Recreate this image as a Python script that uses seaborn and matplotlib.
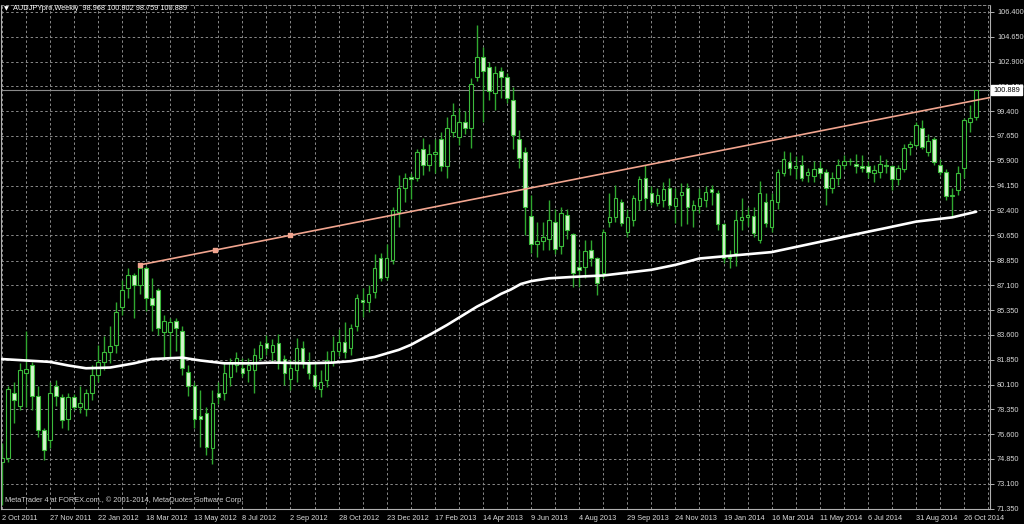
import numpy as np
import pandas as pd
import seaborn as sns
import matplotlib
matplotlib.use('Agg')
from matplotlib import pyplot as plt

# weekly AUDJPY candles, first bar = week of 2 Oct 2011
opens = [74.6, 74.9, 79.5, 78.6, 80.9, 81.5, 79.3, 76.9, 76.2, 80.0,
         79.2, 77.7, 79.2, 78.5, 78.4, 79.5, 80.8, 81.7, 82.4, 82.9,
         85.6, 86.9, 87.8, 87.1, 88.3, 86.2, 86.8, 83.8, 83.8, 84.6,
         83.9, 81.0, 80.0, 77.9, 78.1, 75.6, 79.5, 79.5, 80.6, 81.5,
         81.3, 81.1, 81.1, 82.0, 83.0, 82.4, 83.0, 81.9, 80.5, 81.1,
         82.7, 81.6, 80.8, 79.8, 80.4, 81.7, 82.5, 83.1, 82.7, 84.2,
         86.1, 85.9, 86.6, 89.0, 87.7, 88.9, 92.3, 94.0, 94.75, 94.7,
         96.7, 95.6, 96.4, 97.4, 95.5, 97.9, 97.6, 98.6, 98.2, 101.8,
         103.2, 102.5, 100.7, 102.2, 101.8, 100.2, 97.4, 96.5, 92.0, 90.0,
         90.2, 90.4, 91.6, 89.9, 92.1, 90.7, 88.4, 88.4, 89.6, 89.0,
         88.0, 91.6, 91.9, 93.0, 90.9, 91.7, 93.1, 94.7, 93.6, 92.9,
         93.1, 94.0, 92.7, 93.5, 94.0, 92.4, 92.7, 93.1, 93.9, 93.6,
         91.4, 89.0, 89.4, 91.7, 91.9, 92.0, 90.3, 93.0, 91.2, 93.0,
         95.0, 95.8, 95.4, 95.6, 94.9, 94.8, 95.4, 95.1, 94.0, 94.7,
         95.6, 95.9, 95.7, 95.5, 95.5, 95.0, 95.1, 95.6, 95.5, 94.6,
         95.3, 96.9, 97.0, 98.2, 96.5, 97.4, 95.6, 95.1, 93.4, 93.8,
         95.4, 98.6, 98.968]
highs = [75.95, 80.0, 80.3, 81.6, 83.9, 81.7, 80.0, 77.0, 80.3, 80.4,
         79.4, 79.5, 79.4, 80.0, 79.8, 81.5, 82.9, 83.5, 84.2, 85.9,
         87.5, 88.3, 88.0, 88.55, 88.5, 87.6, 86.9, 85.0, 84.8, 84.8,
         84.2, 81.5, 80.3, 79.7, 78.5, 79.7, 80.3, 81.6, 82.0, 82.4,
         82.0, 82.0, 82.7, 83.2, 83.6, 83.3, 83.7, 82.2, 81.9, 83.4,
         83.2, 82.4, 81.7, 81.1, 82.5, 83.5, 84.0, 84.5, 84.4, 86.5,
         86.9, 87.1, 89.3, 89.4, 90.0, 92.6, 94.9, 95.0, 95.0, 96.7,
         97.5, 97.1, 97.4, 97.9, 99.0, 100.0, 99.6, 99.4, 101.75, 105.5,
         103.9, 102.9, 102.6, 102.5, 102.1, 101.1, 98.1, 96.9, 93.5, 91.6,
         91.6, 93.1, 92.5, 92.6, 92.5, 90.8, 89.6, 90.3, 90.3, 89.1,
         91.1, 93.6, 94.2, 93.2, 92.5, 93.5, 94.8, 95.6, 94.1, 94.0,
         94.4, 94.7, 94.0, 94.3, 94.3, 93.1, 94.0, 94.1, 94.2, 93.8,
         91.5, 89.6, 92.4, 93.3, 92.6, 92.6, 94.5, 93.6, 93.6, 95.3,
         96.6, 96.5, 96.2, 96.3, 95.4, 95.9, 95.9, 95.3, 95.1, 96.0,
         96.3, 96.1, 96.4, 96.3, 95.9, 95.6, 96.3, 96.0, 95.6, 95.6,
         97.1, 97.3, 98.6, 98.8, 97.8, 97.6, 96.0, 95.3, 94.0, 95.5,
         98.9, 99.8, 100.902]
lows = [71.6, 74.6, 77.4, 78.3, 78.5, 78.3, 76.4, 74.8, 75.6, 78.6,
        77.0, 76.9, 78.3, 78.1, 77.9, 79.0, 80.3, 81.1, 81.6, 82.3,
        85.0, 86.2, 84.8, 86.5, 85.3, 83.9, 83.6, 81.9, 82.0, 82.5,
        80.8, 79.3, 77.0, 75.7, 75.1, 74.5, 78.7, 79.0, 80.0, 81.0,
        80.6, 80.3, 79.5, 81.8, 82.2, 81.6, 81.2, 80.1, 79.7, 80.3,
        81.3, 80.5, 79.8, 79.2, 79.9, 81.4, 82.1, 82.0, 82.2, 83.9,
        84.9, 85.2, 86.2, 87.4, 87.5, 88.6, 91.2, 93.0, 93.2, 94.5,
        94.9, 95.2, 95.0, 95.2, 94.7, 97.6, 97.0, 97.8, 96.8, 101.5,
        98.6, 100.2, 99.5, 100.3, 100.0, 96.7, 95.4, 90.65, 89.4, 89.1,
        89.6, 89.6, 89.3, 89.3, 90.4, 87.0, 87.0, 87.6, 88.5, 86.4,
        87.6, 91.2, 91.6, 91.3, 90.5, 91.3, 92.4, 92.4, 92.8, 92.7,
        92.6, 92.5, 91.5, 91.3, 91.4, 91.2, 92.2, 92.6, 92.8, 91.0,
        88.7, 88.3, 88.5, 91.0, 91.3, 90.5, 90.1, 91.2, 90.9, 92.5,
        94.8, 94.9, 94.6, 94.5, 94.4, 94.4, 94.7, 92.8, 93.6, 94.2,
        95.3, 95.6, 95.0, 95.1, 94.7, 94.4, 94.7, 95.0, 93.8, 94.2,
        95.1, 96.3, 96.9, 96.7, 96.2, 95.6, 94.9, 93.1, 91.9, 93.5,
        94.7, 97.9, 98.759]
closes = [74.9, 79.8, 79.0, 81.1, 81.2, 79.3, 76.9, 75.5, 79.5, 79.3,
          77.6, 79.2, 78.5, 78.8, 79.5, 80.8, 81.7, 82.4, 82.8, 85.2,
          86.8, 87.8, 87.1, 88.3, 86.2, 85.7, 84.1, 84.6, 84.5, 84.1,
          81.3, 80.0, 77.7, 77.7, 75.7, 78.8, 79.2, 80.9, 81.6, 82.0,
          80.9, 81.5, 82.2, 82.9, 82.7, 82.9, 81.7, 80.9, 81.3, 82.7,
          81.7, 80.9, 80.0, 80.3, 81.8, 82.5, 83.1, 82.4, 84.1, 86.2,
          85.9, 86.5, 88.3, 87.6, 89.0, 92.4, 94.0, 94.7, 94.6, 96.5,
          95.6, 96.4, 96.5, 95.5, 98.2, 99.1, 98.6, 98.2, 101.3, 103.2,
          102.2, 100.8, 102.1, 101.8, 100.3, 97.7, 96.1, 92.6, 90.0, 90.2,
          90.5, 91.7, 89.7, 92.2, 91.0, 88.0, 88.2, 89.5, 89.0, 87.3,
          90.9, 91.9, 93.3, 91.5, 91.9, 93.3, 94.6, 93.3, 93.0, 93.5,
          93.9, 92.8, 93.3, 93.7, 92.6, 92.8, 93.3, 93.7, 93.7, 91.4,
          89.0, 89.1, 91.7, 91.9, 92.1, 90.8, 93.6, 91.5, 93.1, 95.1,
          96.0, 95.4, 95.5, 94.7, 95.1, 95.3, 95.0, 94.0, 94.7, 95.6,
          95.9, 95.85, 95.5, 95.4, 95.1, 95.25, 95.7, 95.5, 94.6, 95.4,
          96.8, 97.1, 98.4, 96.9, 97.3, 95.8, 95.1, 93.4, 93.5, 95.0,
          98.8, 98.9, 100.889]

date_labels = ['2 Oct 2011', '27 Nov 2011', '22 Jan 2012', '18 Mar 2012',
               '13 May 2012', '8 Jul 2012', '2 Sep 2012', '28 Oct 2012',
               '23 Dec 2012', '17 Feb 2013', '14 Apr 2013', '9 Jun 2013',
               '4 Aug 2013', '29 Sep 2013', '24 Nov 2013', '19 Jan 2014',
               '16 Mar 2014', '11 May 2014', '6 Jul 2014', '31 Aug 2014',
               '26 Oct 2014']
price_ticks = [106.4, 104.65, 102.9, 101.15, 99.4, 97.65, 95.9, 94.15, 92.4,
               90.65, 88.85, 87.1, 85.35, 83.6, 81.85, 80.1, 78.35, 76.6,
               74.85, 73.1, 71.35]
price_labels = ['106.400', '104.650', '102.900', '101.150', '99.400', '97.650',
                '95.900', '94.150', '92.400', '90.650', '88.850', '87.100',
                '85.350', '83.600', '81.850', '80.100', '78.350', '76.600',
                '74.850', '73.100', '71.350']

# white moving average (bar index, value)
ma_bars = [0, 8, 11, 14, 18, 22, 25, 30, 33, 37, 42, 45, 51, 55, 58, 60,
           62, 64, 66, 68, 71.5, 74, 76.5, 79, 81.3, 83, 84.6, 86.3, 88,
           91, 95, 100, 104, 108, 112, 116, 120, 124, 128, 133, 138, 143,
           147, 152, 158, 162]
ma_vals = [81.9, 81.7, 81.45, 81.25, 81.3, 81.6, 81.9, 82.0, 81.8, 81.6,
           81.6, 81.65, 81.6, 81.65, 81.75, 81.9, 82.05, 82.3, 82.55, 82.9,
           83.7, 84.3, 84.95, 85.6, 86.1, 86.5, 86.8, 87.2, 87.4, 87.6,
           87.7, 87.8, 88.0, 88.2, 88.55, 89.0, 89.15, 89.3, 89.45, 89.9,
           90.35, 90.8, 91.15, 91.6, 91.9, 92.3]

# trendline anchors (bar index, price)
trend_bars = [23, 48]
trend_vals = [88.55, 90.64]

last_price = 100.889
title = 'AUDJPYpro,Weekly  98.968 100.902 98.759 100.889'

sns.set_style("dark")
plt.rcParams['font.family'] = ['Liberation Sans', 'DejaVu Sans']

df = pd.DataFrame({'o': opens, 'h': highs, 'l': lows, 'c': closes})
df['bar'] = np.arange(len(df))
bull = df['c'] >= df['o']

fig = plt.figure(figsize=(10.24, 5.24), dpi=100, facecolor='black')
ax = fig.add_axes([1 / 1024, 1 - 508.5 / 524, 989 / 1024, 503.5 / 524])
ax.set_facecolor('black')

xmin, xmax = -0.13, 164.3
ax.set_xlim(xmin, xmax)
ax.set_ylim(71.35, 106.894)

# grid
grid_kw = dict(color='#8a8a8a', lw=0.7, ls=(0, (2.5, 2.5)))
ax.set_xticks(np.arange(0, 161, 8))
ax.set_xticks(np.arange(0, 165, 4), minor=True)
ax.set_xticklabels(date_labels)
ax.set_yticks(price_ticks)
ax.set_yticklabels(price_labels)
ax.grid(True, which='both', axis='x', **grid_kw)
ax.grid(True, which='major', axis='y', **grid_kw)
ax.set_axisbelow(True)

ax.yaxis.tick_right()
ax.tick_params(axis='y', which='major', direction='out', length=3, width=0.7,
               color='#b0b0b0', labelcolor='#d8d8d8', labelsize=5.3, pad=2)
ax.tick_params(axis='x', which='major', direction='out', length=3, width=0.7,
               color='#b0b0b0', labelcolor='#d8d8d8', labelsize=5.3, pad=2)
ax.tick_params(axis='x', which='minor', length=0)
for lab in ax.get_xticklabels():
    lab.set_ha('left')
for s in ['left', 'right', 'bottom']:
    ax.spines[s].set_color('#b0b0b0')
    ax.spines[s].set_linewidth(0.8)
ax.spines['top'].set_color('#8a8a8a')
ax.spines['top'].set_linestyle((0, (2.5, 2.5)))
ax.spines['top'].set_linewidth(0.7)
ax.set_xlabel('')
ax.set_ylabel('')

# current price line
ax.axhline(last_price, color='#8a8a8a', lw=0.8, zorder=1.5)

# candles
wick = '#2fa82f'
ax.vlines(df['bar'], df['l'], df['h'], color=wick, lw=1.0, zorder=2)
body_lo = np.minimum(df['o'], df['c'])
body_h = np.maximum(np.abs(df['c'] - df['o']), 0.06)
ax.bar(df['bar'], body_h, bottom=body_lo, width=0.58,
       color=np.where(bull, 'black', '#d4f5cc'), edgecolor='#3cbb3c',
       linewidth=0.8, zorder=2.5)

# moving average
sns.lineplot(x=ma_bars, y=ma_vals, ax=ax, color='white', lw=1.9, zorder=3,
             estimator=None, sort=False)

# trendline ray
slope = (trend_vals[1] - trend_vals[0]) / (trend_bars[1] - trend_bars[0])
ray_x = [trend_bars[0], xmax]
ray_y = [trend_vals[0], trend_vals[0] + slope * (xmax - trend_bars[0])]
sns.lineplot(x=ray_x, y=ray_y, ax=ax, color='#f2a58f', lw=1.2, zorder=3.5,
             estimator=None, sort=False)
mid_bar = (trend_bars[0] + trend_bars[1]) / 2
mid_val = (trend_vals[0] + trend_vals[1]) / 2
ax.scatter([trend_bars[0], mid_bar, trend_bars[1]],
           [trend_vals[0], mid_val, trend_vals[1]],
           marker='s', s=5, color='#f2a58f', zorder=3.6)

# last price box on the scale
ax.text(1.003, last_price, '100.889', transform=ax.get_yaxis_transform(),
        fontsize=5.3, color='black', va='center', ha='left', zorder=10,
        clip_on=False,
        bbox=dict(boxstyle='square,pad=0.25', facecolor='white',
                  edgecolor='white'))

# header and footer texts
fig.text(4 / 1024, 1 - 9 / 524, '\u25bc', fontsize=4.5, color='white',
         va='center', ha='left', family=['DejaVu Sans'])
fig.text(13 / 1024, 1 - 9 / 524, title, fontsize=5.3, color='white',
         va='center', ha='left')
fig.text(5 / 1024, 1 - 500 / 524,
         'MetaTrader 4 at FOREX.com., \u00a9 2001-2014, MetaQuotes Software Corp.',
         fontsize=5.3, color='#d0d0d0', va='center', ha='left')

fig.savefig('out.png', dpi=100, facecolor='black')
